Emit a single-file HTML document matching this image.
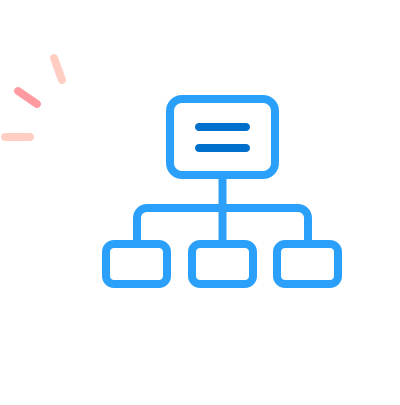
<!DOCTYPE html>
<html><head><style>body{margin:0;background:#fff}</style></head><body>
<svg width="400" height="400" viewBox="0 0 400 400" xmlns="http://www.w3.org/2000/svg">
<g stroke-linecap="round" stroke-width="8" fill="none">
<line x1="54" y1="58" x2="62" y2="80" stroke="#ffcdc2"/>
<line x1="18" y1="91" x2="37" y2="104" stroke="#ff9aa0"/>
<line x1="5" y1="137" x2="30" y2="137" stroke="#ffcdc2"/>
</g>
<g stroke="#2ba0fa" stroke-width="8" fill="none">
<rect x="170" y="99" width="105" height="76" rx="12"/>
<line x1="222.5" y1="179" x2="222.5" y2="240"/>
<path d="M137 240 V218 a10 10 0 0 1 10 -10 H298 a10 10 0 0 1 10 10 V240"/>
<rect x="106" y="244" width="61" height="40" rx="8"/>
<rect x="192" y="244" width="61" height="40" rx="8"/>
<rect x="277" y="244" width="61" height="40" rx="8"/>
</g>
<g stroke="#0070cc" stroke-width="8" stroke-linecap="round">
<line x1="199" y1="127" x2="246" y2="127"/>
<line x1="199" y1="148" x2="246" y2="148"/>
</g>
</svg>
</body></html>
